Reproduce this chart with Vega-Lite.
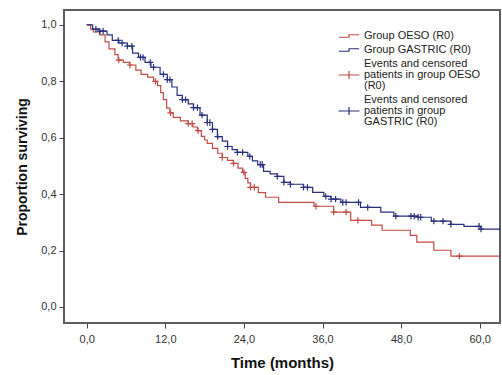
{
  "$schema": "https://vega.github.io/schema/vega-lite/v6.json",
  "width": 436,
  "height": 313,
  "autosize": "none",
  "padding": {"left": 64, "top": 10, "right": 2, "bottom": 52},
  "background": "white",
  "config": {
    "view": {"stroke": "#5e5e5e", "strokeWidth": 2},
    "font": "Liberation Sans"
  },
  "datasets": {
    "km": [
      {"time": 0, "surv": 1.0, "series": "Group OESO (R0)"},
      {"time": 0.6, "surv": 0.985, "series": "Group OESO (R0)"},
      {"time": 1.0, "surv": 0.975, "series": "Group OESO (R0)"},
      {"time": 2.0, "surv": 0.965, "series": "Group OESO (R0)"},
      {"time": 2.8, "surv": 0.94, "series": "Group OESO (R0)"},
      {"time": 3.4, "surv": 0.915, "series": "Group OESO (R0)"},
      {"time": 4.3, "surv": 0.895, "series": "Group OESO (R0)"},
      {"time": 4.8, "surv": 0.875, "series": "Group OESO (R0)"},
      {"time": 5.6, "surv": 0.867, "series": "Group OESO (R0)"},
      {"time": 6.5, "surv": 0.858, "series": "Group OESO (R0)"},
      {"time": 7.5, "surv": 0.84, "series": "Group OESO (R0)"},
      {"time": 8.3, "surv": 0.825, "series": "Group OESO (R0)"},
      {"time": 9.3, "surv": 0.815, "series": "Group OESO (R0)"},
      {"time": 10.2, "surv": 0.8, "series": "Group OESO (R0)"},
      {"time": 10.8, "surv": 0.785, "series": "Group OESO (R0)"},
      {"time": 11.3, "surv": 0.76, "series": "Group OESO (R0)"},
      {"time": 11.7, "surv": 0.735, "series": "Group OESO (R0)"},
      {"time": 12.2, "surv": 0.705, "series": "Group OESO (R0)"},
      {"time": 12.7, "surv": 0.688, "series": "Group OESO (R0)"},
      {"time": 13.2, "surv": 0.672, "series": "Group OESO (R0)"},
      {"time": 14.3, "surv": 0.66, "series": "Group OESO (R0)"},
      {"time": 15.5, "surv": 0.65, "series": "Group OESO (R0)"},
      {"time": 16.2, "surv": 0.638, "series": "Group OESO (R0)"},
      {"time": 16.9, "surv": 0.625, "series": "Group OESO (R0)"},
      {"time": 17.5, "surv": 0.605, "series": "Group OESO (R0)"},
      {"time": 18.0, "surv": 0.592, "series": "Group OESO (R0)"},
      {"time": 18.4, "surv": 0.58, "series": "Group OESO (R0)"},
      {"time": 19.2, "surv": 0.562, "series": "Group OESO (R0)"},
      {"time": 20.0, "surv": 0.545, "series": "Group OESO (R0)"},
      {"time": 20.7, "surv": 0.53, "series": "Group OESO (R0)"},
      {"time": 21.5, "surv": 0.52, "series": "Group OESO (R0)"},
      {"time": 22.4, "surv": 0.509, "series": "Group OESO (R0)"},
      {"time": 23.1, "surv": 0.492, "series": "Group OESO (R0)"},
      {"time": 23.8, "surv": 0.477, "series": "Group OESO (R0)"},
      {"time": 24.2, "surv": 0.456, "series": "Group OESO (R0)"},
      {"time": 24.6, "surv": 0.44, "series": "Group OESO (R0)"},
      {"time": 25.0, "surv": 0.424, "series": "Group OESO (R0)"},
      {"time": 26.2, "surv": 0.405, "series": "Group OESO (R0)"},
      {"time": 27.3, "surv": 0.389, "series": "Group OESO (R0)"},
      {"time": 29.3, "surv": 0.371, "series": "Group OESO (R0)"},
      {"time": 34.7, "surv": 0.357, "series": "Group OESO (R0)"},
      {"time": 37.7, "surv": 0.336, "series": "Group OESO (R0)"},
      {"time": 40.3, "surv": 0.307, "series": "Group OESO (R0)"},
      {"time": 43.5, "surv": 0.29, "series": "Group OESO (R0)"},
      {"time": 45.1, "surv": 0.272, "series": "Group OESO (R0)"},
      {"time": 49.4, "surv": 0.254, "series": "Group OESO (R0)"},
      {"time": 50.4, "surv": 0.23, "series": "Group OESO (R0)"},
      {"time": 53.0, "surv": 0.201, "series": "Group OESO (R0)"},
      {"time": 55.6, "surv": 0.18, "series": "Group OESO (R0)"},
      {"time": 63.0, "surv": 0.18, "series": "Group OESO (R0)"},
      {"time": 0, "surv": 1.0, "series": "Group GASTRIC (R0)"},
      {"time": 0.9, "surv": 0.985, "series": "Group GASTRIC (R0)"},
      {"time": 1.9, "surv": 0.978, "series": "Group GASTRIC (R0)"},
      {"time": 3.1, "surv": 0.965, "series": "Group GASTRIC (R0)"},
      {"time": 3.9, "surv": 0.945, "series": "Group GASTRIC (R0)"},
      {"time": 4.9, "surv": 0.936, "series": "Group GASTRIC (R0)"},
      {"time": 6.2, "surv": 0.925, "series": "Group GASTRIC (R0)"},
      {"time": 7.0, "surv": 0.9, "series": "Group GASTRIC (R0)"},
      {"time": 7.9, "surv": 0.885, "series": "Group GASTRIC (R0)"},
      {"time": 8.9, "surv": 0.867, "series": "Group GASTRIC (R0)"},
      {"time": 9.8, "surv": 0.85, "series": "Group GASTRIC (R0)"},
      {"time": 11.2, "surv": 0.825, "series": "Group GASTRIC (R0)"},
      {"time": 12.3, "surv": 0.806, "series": "Group GASTRIC (R0)"},
      {"time": 13.0, "surv": 0.78, "series": "Group GASTRIC (R0)"},
      {"time": 13.8, "surv": 0.75, "series": "Group GASTRIC (R0)"},
      {"time": 14.6, "surv": 0.735, "series": "Group GASTRIC (R0)"},
      {"time": 15.5, "surv": 0.72, "series": "Group GASTRIC (R0)"},
      {"time": 16.3, "surv": 0.707, "series": "Group GASTRIC (R0)"},
      {"time": 17.3, "surv": 0.68, "series": "Group GASTRIC (R0)"},
      {"time": 18.4, "surv": 0.654, "series": "Group GASTRIC (R0)"},
      {"time": 19.2, "surv": 0.63, "series": "Group GASTRIC (R0)"},
      {"time": 19.95, "surv": 0.604, "series": "Group GASTRIC (R0)"},
      {"time": 20.7, "surv": 0.588, "series": "Group GASTRIC (R0)"},
      {"time": 21.5, "surv": 0.569, "series": "Group GASTRIC (R0)"},
      {"time": 22.2, "surv": 0.558, "series": "Group GASTRIC (R0)"},
      {"time": 23.0, "surv": 0.548, "series": "Group GASTRIC (R0)"},
      {"time": 24.6, "surv": 0.534, "series": "Group GASTRIC (R0)"},
      {"time": 25.3, "surv": 0.518, "series": "Group GASTRIC (R0)"},
      {"time": 26.1, "surv": 0.505, "series": "Group GASTRIC (R0)"},
      {"time": 27.0, "surv": 0.481, "series": "Group GASTRIC (R0)"},
      {"time": 28.0, "surv": 0.472, "series": "Group GASTRIC (R0)"},
      {"time": 29.1, "surv": 0.463, "series": "Group GASTRIC (R0)"},
      {"time": 30.1, "surv": 0.442, "series": "Group GASTRIC (R0)"},
      {"time": 31.1, "surv": 0.435, "series": "Group GASTRIC (R0)"},
      {"time": 33.1, "surv": 0.424, "series": "Group GASTRIC (R0)"},
      {"time": 34.5, "surv": 0.406, "series": "Group GASTRIC (R0)"},
      {"time": 36.2, "surv": 0.392, "series": "Group GASTRIC (R0)"},
      {"time": 37.3, "surv": 0.382, "series": "Group GASTRIC (R0)"},
      {"time": 38.8, "surv": 0.371, "series": "Group GASTRIC (R0)"},
      {"time": 41.8, "surv": 0.353, "series": "Group GASTRIC (R0)"},
      {"time": 44.9, "surv": 0.336, "series": "Group GASTRIC (R0)"},
      {"time": 46.9, "surv": 0.322, "series": "Group GASTRIC (R0)"},
      {"time": 50.6, "surv": 0.318, "series": "Group GASTRIC (R0)"},
      {"time": 52.6, "surv": 0.304, "series": "Group GASTRIC (R0)"},
      {"time": 55.6, "surv": 0.293, "series": "Group GASTRIC (R0)"},
      {"time": 57.6, "surv": 0.286, "series": "Group GASTRIC (R0)"},
      {"time": 60.2, "surv": 0.276, "series": "Group GASTRIC (R0)"},
      {"time": 63.0, "surv": 0.272, "series": "Group GASTRIC (R0)"}
    ],
    "cens": [
      {"time": 4.9, "surv": 0.875, "series": "Events and censored patients in group OESO (R0)"},
      {"time": 6.6, "surv": 0.858, "series": "Events and censored patients in group OESO (R0)"},
      {"time": 10.5, "surv": 0.8, "series": "Events and censored patients in group OESO (R0)"},
      {"time": 12.8, "surv": 0.688, "series": "Events and censored patients in group OESO (R0)"},
      {"time": 15.5, "surv": 0.65, "series": "Events and censored patients in group OESO (R0)"},
      {"time": 16.1, "surv": 0.65, "series": "Events and censored patients in group OESO (R0)"},
      {"time": 17.0, "surv": 0.625, "series": "Events and censored patients in group OESO (R0)"},
      {"time": 20.7, "surv": 0.53, "series": "Events and censored patients in group OESO (R0)"},
      {"time": 22.4, "surv": 0.509, "series": "Events and censored patients in group OESO (R0)"},
      {"time": 24.0, "surv": 0.477, "series": "Events and censored patients in group OESO (R0)"},
      {"time": 25.0, "surv": 0.424, "series": "Events and censored patients in group OESO (R0)"},
      {"time": 25.6, "surv": 0.424, "series": "Events and censored patients in group OESO (R0)"},
      {"time": 35.0, "surv": 0.357, "series": "Events and censored patients in group OESO (R0)"},
      {"time": 37.7, "surv": 0.336, "series": "Events and censored patients in group OESO (R0)"},
      {"time": 39.6, "surv": 0.336, "series": "Events and censored patients in group OESO (R0)"},
      {"time": 41.4, "surv": 0.307, "series": "Events and censored patients in group OESO (R0)"},
      {"time": 56.9, "surv": 0.18, "series": "Events and censored patients in group OESO (R0)"},
      {"time": 1.4, "surv": 0.985, "series": "Events and censored patients in group GASTRIC (R0)"},
      {"time": 2.0, "surv": 0.978, "series": "Events and censored patients in group GASTRIC (R0)"},
      {"time": 2.5, "surv": 0.978, "series": "Events and censored patients in group GASTRIC (R0)"},
      {"time": 4.8, "surv": 0.945, "series": "Events and censored patients in group GASTRIC (R0)"},
      {"time": 5.4, "surv": 0.936, "series": "Events and censored patients in group GASTRIC (R0)"},
      {"time": 6.2, "surv": 0.925, "series": "Events and censored patients in group GASTRIC (R0)"},
      {"time": 6.9, "surv": 0.925, "series": "Events and censored patients in group GASTRIC (R0)"},
      {"time": 8.2, "surv": 0.885, "series": "Events and censored patients in group GASTRIC (R0)"},
      {"time": 8.6, "surv": 0.885, "series": "Events and censored patients in group GASTRIC (R0)"},
      {"time": 9.7, "surv": 0.867, "series": "Events and censored patients in group GASTRIC (R0)"},
      {"time": 10.2, "surv": 0.85, "series": "Events and censored patients in group GASTRIC (R0)"},
      {"time": 11.7, "surv": 0.825, "series": "Events and censored patients in group GASTRIC (R0)"},
      {"time": 12.3, "surv": 0.806, "series": "Events and censored patients in group GASTRIC (R0)"},
      {"time": 12.7, "surv": 0.806, "series": "Events and censored patients in group GASTRIC (R0)"},
      {"time": 14.6, "surv": 0.735, "series": "Events and censored patients in group GASTRIC (R0)"},
      {"time": 15.1, "surv": 0.735, "series": "Events and censored patients in group GASTRIC (R0)"},
      {"time": 16.3, "surv": 0.707, "series": "Events and censored patients in group GASTRIC (R0)"},
      {"time": 16.9, "surv": 0.707, "series": "Events and censored patients in group GASTRIC (R0)"},
      {"time": 17.6, "surv": 0.68, "series": "Events and censored patients in group GASTRIC (R0)"},
      {"time": 18.4, "surv": 0.654, "series": "Events and censored patients in group GASTRIC (R0)"},
      {"time": 18.8, "surv": 0.654, "series": "Events and censored patients in group GASTRIC (R0)"},
      {"time": 19.2, "surv": 0.63, "series": "Events and censored patients in group GASTRIC (R0)"},
      {"time": 20.0, "surv": 0.604, "series": "Events and censored patients in group GASTRIC (R0)"},
      {"time": 21.5, "surv": 0.569, "series": "Events and censored patients in group GASTRIC (R0)"},
      {"time": 23.0, "surv": 0.548, "series": "Events and censored patients in group GASTRIC (R0)"},
      {"time": 23.8, "surv": 0.548, "series": "Events and censored patients in group GASTRIC (R0)"},
      {"time": 24.9, "surv": 0.534, "series": "Events and censored patients in group GASTRIC (R0)"},
      {"time": 26.5, "surv": 0.505, "series": "Events and censored patients in group GASTRIC (R0)"},
      {"time": 26.8, "surv": 0.505, "series": "Events and censored patients in group GASTRIC (R0)"},
      {"time": 29.1, "surv": 0.463, "series": "Events and censored patients in group GASTRIC (R0)"},
      {"time": 30.1, "surv": 0.442, "series": "Events and censored patients in group GASTRIC (R0)"},
      {"time": 31.1, "surv": 0.435, "series": "Events and censored patients in group GASTRIC (R0)"},
      {"time": 33.1, "surv": 0.424, "series": "Events and censored patients in group GASTRIC (R0)"},
      {"time": 33.7, "surv": 0.424, "series": "Events and censored patients in group GASTRIC (R0)"},
      {"time": 36.5, "surv": 0.392, "series": "Events and censored patients in group GASTRIC (R0)"},
      {"time": 37.3, "surv": 0.382, "series": "Events and censored patients in group GASTRIC (R0)"},
      {"time": 38.0, "surv": 0.382, "series": "Events and censored patients in group GASTRIC (R0)"},
      {"time": 39.1, "surv": 0.371, "series": "Events and censored patients in group GASTRIC (R0)"},
      {"time": 39.6, "surv": 0.371, "series": "Events and censored patients in group GASTRIC (R0)"},
      {"time": 41.5, "surv": 0.371, "series": "Events and censored patients in group GASTRIC (R0)"},
      {"time": 42.9, "surv": 0.353, "series": "Events and censored patients in group GASTRIC (R0)"},
      {"time": 47.2, "surv": 0.322, "series": "Events and censored patients in group GASTRIC (R0)"},
      {"time": 49.5, "surv": 0.322, "series": "Events and censored patients in group GASTRIC (R0)"},
      {"time": 50.0, "surv": 0.322, "series": "Events and censored patients in group GASTRIC (R0)"},
      {"time": 50.6, "surv": 0.318, "series": "Events and censored patients in group GASTRIC (R0)"},
      {"time": 51.0, "surv": 0.318, "series": "Events and censored patients in group GASTRIC (R0)"},
      {"time": 53.0, "surv": 0.304, "series": "Events and censored patients in group GASTRIC (R0)"},
      {"time": 54.4, "surv": 0.304, "series": "Events and censored patients in group GASTRIC (R0)"},
      {"time": 55.6, "surv": 0.293, "series": "Events and censored patients in group GASTRIC (R0)"},
      {"time": 59.9, "surv": 0.286, "series": "Events and censored patients in group GASTRIC (R0)"},
      {"time": 60.2, "surv": 0.276, "series": "Events and censored patients in group GASTRIC (R0)"}
    ]
  },
  "encoding": {
    "x": {
      "field": "time", "type": "quantitative",
      "scale": {"domain": [-3.47, 63.1], "nice": false, "zero": false},
      "axis": {
        "title": "Time (months)",
        "values": [0, 12, 24, 36, 48, 60],
        "labelExpr": "replace(format(datum.value, '.1f'), '.', ',')",
        "grid": false, "domain": false,
        "tickSize": 5, "tickColor": "#444444", "tickWidth": 1,
        "labelFontSize": 11, "labelColor": "#333333", "labelPadding": 5,
        "titleFontSize": 15, "titleFontWeight": "bold", "titleColor": "#111111", "titlePadding": 11
      }
    },
    "y": {
      "field": "surv", "type": "quantitative",
      "scale": {"domain": [-0.057, 1.053], "nice": false, "zero": false},
      "axis": {
        "title": "Proportion surviving",
        "values": [0, 0.2, 0.4, 0.6, 0.8, 1.0],
        "labelExpr": "replace(format(datum.value, '.1f'), '.', ',')",
        "grid": false, "domain": false,
        "tickSize": 5, "tickColor": "#444444", "tickWidth": 1,
        "labelFontSize": 11, "labelColor": "#333333", "labelPadding": 3,
        "titleFontSize": 14, "titleFontWeight": "bold", "titleColor": "#111111", "titlePadding": 11
      }
    },
    "color": {
      "field": "series", "type": "nominal",
      "scale": {
        "domain": ["Group OESO (R0)", "Group GASTRIC (R0)", "Events and censored patients in group OESO (R0)", "Events and censored patients in group GASTRIC (R0)"],
        "range": ["#c24b44", "#28307c", "#c24b44", "#28307c"]
      },
      "legend": {
        "title": null,
        "orient": "none",
        "legendX": 279,
        "legendY": 20,
        "symbolSize": 100,
        "symbolStrokeWidth": 1.2,
        "symbolFillColor": "transparent",
        "labelFontSize": 11,
        "labelColor": "#222222",
        "labelOffset": 9,
        "labelLimit": 200,
        "rowPadding": 3,
        "labelExpr": "datum.label == 'Events and censored patients in group OESO (R0)' ? ['Events and censored', 'patients in group OESO', '(R0)'] : datum.label == 'Events and censored patients in group GASTRIC (R0)' ? ['Events and censored', 'patients in group', 'GASTRIC (R0)'] : datum.label",
        "encode": {
          "symbols": {
            "update": {
              "shape": {"signal": "indexof(datum.value, 'Events') == 0 ? 'M-2.1,0H2.1M0,-0.8V0.8' : 'M-2,0.25H0V-0.25H2'"},
              "fill": {"value": "transparent"}
            }
          },
          "labels": {
            "update": {
              "lineHeight": {"value": 10.8},
              "dy": {"signal": "indexof(datum.value, 'Events') == 0 ? -10.8 : 0"}
            }
          }
        }
      }
    }
  },
  "layer": [
    {
      "data": {"name": "km"},
      "mark": {"type": "line", "interpolate": "step-after", "strokeWidth": 1.2}
    },
    {
      "data": {"name": "cens"},
      "mark": {"type": "point", "shape": "M-1,0H1M0,-1V1", "size": 40, "filled": false, "strokeWidth": 1.2, "opacity": 1}
    }
  ]
}
